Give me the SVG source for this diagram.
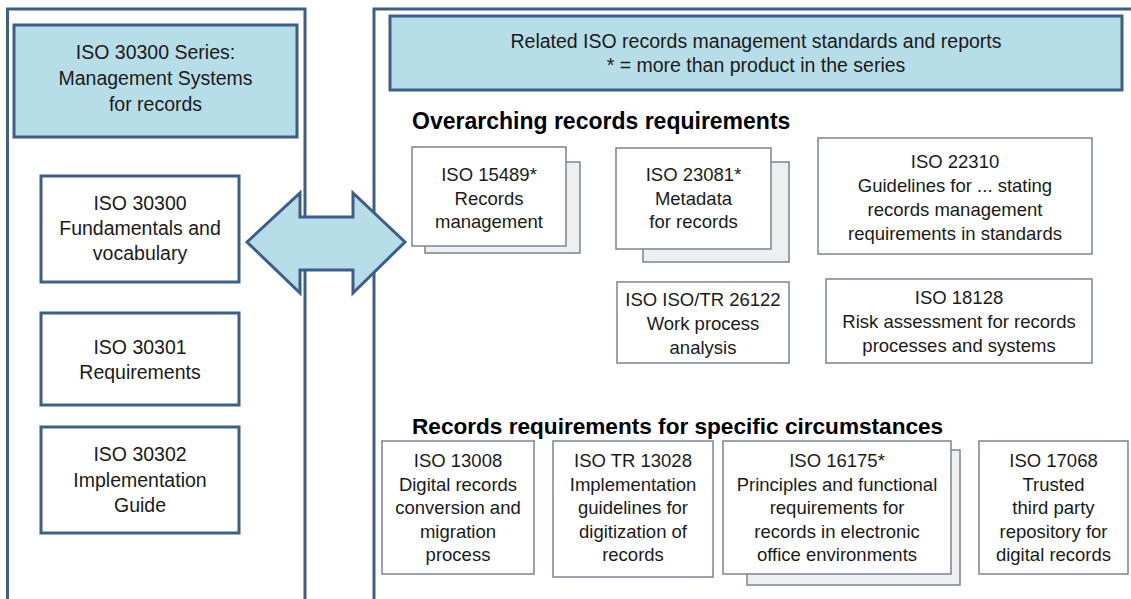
<svg xmlns="http://www.w3.org/2000/svg" width="1131" height="599" viewBox="0 0 1131 599">
<style>
text{font-family:"Liberation Sans",Arial,sans-serif;fill:#1a1a1a;text-anchor:middle}
.l{font-size:19.5px}
.r{font-size:18.5px}
.hr{font-size:19.5px}
.h{font-size:23px;font-weight:bold;text-anchor:start;fill:#000}
.panel{fill:#fff;stroke:#3f5e87;stroke-width:3}
.hdr{fill:#b7dde8;stroke:#3f5e87;stroke-width:3}
.lbox{fill:#fff;stroke:#3f5e87;stroke-width:3}
.rbox{fill:#fff;stroke:#7a8593;stroke-width:1.5}
.back{fill:#eeeff1;stroke:#7a8593;stroke-width:1.5}
.arrow{fill:#b7dde8;stroke:#3f5e87;stroke-width:3;stroke-linejoin:miter}
</style>
<rect width="1131" height="599" fill="#fff"/>
<g id="left-panel">
<rect class="panel" x="7.5" y="9" width="297.5" height="620"/>
</g>
<g id="right-panel">
<rect class="panel" x="374" y="9" width="780" height="620"/>
</g>
<g id="left-header">
<rect class="hdr" x="14" y="25" width="283" height="112"/>
<text class="l" x="155.5" y="59">ISO 30300 Series:</text>
<text class="l" x="155.5" y="85">Management Systems</text>
<text class="l" x="155.5" y="111">for records</text>
</g>
<g id="iso30300">
<rect class="lbox" x="41" y="176" width="198" height="106"/>
<text class="l" x="140" y="210">ISO 30300</text>
<text class="l" x="140" y="235">Fundamentals and</text>
<text class="l" x="140" y="260">vocabulary</text>
</g>
<g id="iso30301">
<rect class="lbox" x="41" y="313" width="198" height="92"/>
<text class="l" x="140" y="354">ISO 30301</text>
<text class="l" x="140" y="379">Requirements</text>
</g>
<g id="iso30302">
<rect class="lbox" x="41" y="427" width="198" height="106"/>
<text class="l" x="140" y="461">ISO 30302</text>
<text class="l" x="140" y="487">Implementation</text>
<text class="l" x="140" y="512">Guide</text>
</g>
<g id="connectors">
<polygon class="arrow" points="247,242 300,193 300,217 353,217 353,193 405,242 353,293 353,270 300,270 300,293"/>
</g>
<g id="right-header">
<rect class="hdr" x="390" y="16" width="732" height="74"/>
<text class="hr" x="756" y="47.5">Related ISO records management standards and reports</text>
<text class="hr" x="756" y="72">* = more than product in the series</text>
</g>
<g id="heading-overarching">
<text class="h" x="412" y="129">Overarching records requirements</text>
</g>
<g id="iso15489">
<rect class="back" x="425" y="162" width="155" height="91"/>
<rect class="rbox" x="412" y="147" width="154" height="99"/>
<text class="r" x="489" y="181">ISO 15489*</text>
<text class="r" x="489" y="204.5">Records</text>
<text class="r" x="489" y="228">management</text>
</g>
<g id="iso23081">
<rect class="back" x="643" y="162" width="146" height="100"/>
<rect class="rbox" x="616" y="148" width="155" height="101"/>
<text class="r" x="693.5" y="181">ISO 23081*</text>
<text class="r" x="693.5" y="204.5">Metadata</text>
<text class="r" x="693.5" y="228">for records</text>
</g>
<g id="iso22310">
<rect class="rbox" x="818" y="138" width="274" height="116"/>
<text class="r" x="955" y="168">ISO 22310</text>
<text class="r" x="955" y="192">Guidelines for ... stating</text>
<text class="r" x="955" y="216">records management</text>
<text class="r" x="955" y="240">requirements in standards</text>
</g>
<g id="iso26122">
<rect class="rbox" x="617" y="282" width="172" height="81"/>
<text class="r" x="703" y="306">ISO ISO/TR 26122</text>
<text class="r" x="703" y="330">Work process</text>
<text class="r" x="703" y="354">analysis</text>
</g>
<g id="iso18128">
<rect class="rbox" x="826" y="279" width="266" height="84"/>
<text class="r" x="959" y="304">ISO 18128</text>
<text class="r" x="959" y="328">Risk assessment for records</text>
<text class="r" x="959" y="352">processes and systems</text>
</g>
<g id="heading-specific">
<text class="h" x="412" y="434" style="font-size:22.6px">Records requirements for specific circumstances</text>
</g>
<g id="iso13008">
<rect class="rbox" x="382" y="441" width="152" height="133"/>
<text class="r" x="458" y="467">ISO 13008</text>
<text class="r" x="458" y="490.5">Digital records</text>
<text class="r" x="458" y="514">conversion and</text>
<text class="r" x="458" y="537.5">migration</text>
<text class="r" x="458" y="561">process</text>
</g>
<g id="isotr13028">
<rect class="rbox" x="553" y="441" width="160" height="136"/>
<text class="r" x="633" y="467">ISO TR 13028</text>
<text class="r" x="633" y="490.5">Implementation</text>
<text class="r" x="633" y="514">guidelines  for</text>
<text class="r" x="633" y="537.5">digitization of</text>
<text class="r" x="633" y="561">records</text>
</g>
<g id="iso16175">
<rect class="back" x="747" y="450" width="213" height="135"/>
<rect class="rbox" x="723" y="441" width="228" height="133"/>
<text class="r" x="837" y="467">ISO 16175*</text>
<text class="r" x="837" y="490.5">Principles and functional</text>
<text class="r" x="837" y="514">requirements for</text>
<text class="r" x="837" y="537.5">records in electronic</text>
<text class="r" x="837" y="561">office environments</text>
</g>
<g id="iso17068">
<rect class="rbox" x="979" y="441" width="149" height="133"/>
<text class="r" x="1053.5" y="467">ISO 17068</text>
<text class="r" x="1053.5" y="490.5">Trusted</text>
<text class="r" x="1053.5" y="514">third party</text>
<text class="r" x="1053.5" y="537.5">repository for</text>
<text class="r" x="1053.5" y="561">digital records</text>
</g>
</svg>
